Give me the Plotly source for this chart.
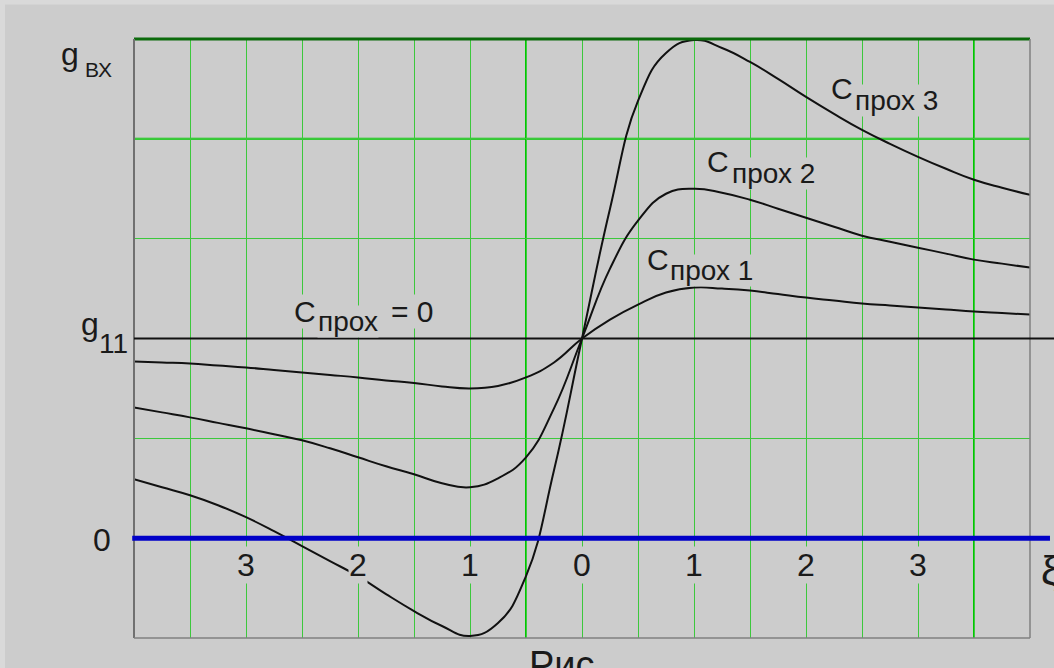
import plotly.graph_objects as go

# Input conductance g_вх versus generalized detuning ξ for several values of
# the feedback (pass-through) capacitance C_прох.  Units on the g axis: 0 at the
# blue zero line, g11 = 2 grid steps, top of the frame = 5 steps.
G11 = 2.0
ZERO = 0.0

xi = [-4, -3.75, -3.5, -3.25, -3, -2.75, -2.5, -2.25, -2, -1.75, -1.5, -1.25,
      -1, -0.75, -0.5, -0.25, 0, 0.25, 0.5, 0.75, 1, 1.25, 1.5, 1.75, 2, 2.25,
      2.5, 2.75, 3, 3.25, 3.5, 3.75, 4]

g_c1 = [1.77, 1.76, 1.75, 1.73, 1.71, 1.685, 1.66, 1.635, 1.61, 1.58, 1.555,
        1.52, 1.50, 1.525, 1.61, 1.76, 2.0, 2.19, 2.34, 2.46, 2.51, 2.50, 2.48,
        2.445, 2.41, 2.38, 2.35, 2.33, 2.31, 2.29, 2.27, 2.255, 2.24]

g_c2 = [1.31, 1.26, 1.21, 1.155, 1.10, 1.04, 0.98, 0.90, 0.81, 0.72, 0.64,
        0.55, 0.51, 0.60, 0.81, 1.30, 2.0, 2.70, 3.18, 3.45, 3.50, 3.46, 3.39,
        3.30, 3.21, 3.12, 3.03, 2.97, 2.91, 2.85, 2.79, 2.75, 2.71]

g_c3 = [0.59, 0.51, 0.43, 0.33, 0.21, 0.07, -0.08, -0.23, -0.38, -0.56, -0.73,
        -0.88, -0.98, -0.85, -0.38, 0.68, 2.0, 3.30, 4.38, 4.86, 4.99, 4.91,
        4.77, 4.60, 4.42, 4.25, 4.09, 3.95, 3.82, 3.70, 3.59, 3.51, 3.44]

# ξ tick positions along the zero line and the labels printed there (|ξ|)
xi_ticks = [-3, -2, -1, 0, 1, 2, 3]
xi_tick_text = ["3", "2", "1", "0", "1", "2", "3"]

BG = "#cccccc"
GRID = "rgb(60,200,60)"
GRID_STRONG = "rgb(0,200,0)"
FONT = "Liberation Sans, Arial, sans-serif"
INK = "#1a1a1a"

fig = go.Figure()

for ys in (g_c1, g_c2, g_c3):
    fig.add_trace(go.Scatter(
        x=xi, y=ys, mode="lines",
        line=dict(color="#111111", width=2, shape="spline", smoothing=1.3),
        hoverinfo="skip", showlegend=False,
    ))

shapes = []
# emphasised grid lines
for xv in (-0.5, 3.5):
    shapes.append(dict(type="line", xref="x", yref="paper", x0=xv, x1=xv,
                       y0=0, y1=1, line=dict(color=GRID_STRONG, width=2),
                       layer="between"))
shapes.append(dict(type="line", xref="paper", yref="y", x0=0, x1=1,
                   y0=4, y1=4, line=dict(color=GRID_STRONG, width=2),
                   layer="between"))
# frame
shapes.append(dict(type="line", xref="paper", yref="paper", x0=0, x1=1,
                   y0=1, y1=1, line=dict(color="#0b6a0b", width=3)))
shapes.append(dict(type="line", xref="paper", yref="paper", x0=0, x1=0,
                   y0=0, y1=1, line=dict(color="#707070", width=2)))
shapes.append(dict(type="line", xref="paper", yref="paper", x0=1, x1=1,
                   y0=0, y1=1, line=dict(color="#808080", width=1.5)))
shapes.append(dict(type="line", xref="paper", yref="paper", x0=0, x1=1,
                   y0=0, y1=0, line=dict(color="#808080", width=1.5)))
# C_прох = 0 : constant level g11
shapes.append(dict(type="line", xref="paper", yref="y", x0=0, x1=1.03,
                   y0=G11, y1=G11, line=dict(color="#111111", width=2)))
# zero line of g
shapes.append(dict(type="line", xref="paper", yref="y", x0=-0.002, x1=1.0223,
                   y0=ZERO, y1=ZERO, line=dict(color="#0000c8", width=5)))
# light strips along the top and left edges of the sheet
shapes.append(dict(type="rect", xref="paper", yref="paper",
                   x0=-0.1496, x1=1.03, y0=1.0575, y1=1.07,
                   line=dict(width=0), fillcolor="#d9d9d9", layer="below"))
shapes.append(dict(type="rect", xref="paper", yref="paper",
                   x0=-0.1496, x1=-0.144, y0=-0.06, y1=1.07,
                   line=dict(width=0), fillcolor="#d9d9d9", layer="below"))

ann = []


def label(text, x, y, size, xref="x", yref="y", xanchor="left", bg=BG):
    ann.append(dict(text=text, x=x, y=y, xref=xref, yref=yref,
                    xanchor=xanchor, yanchor="middle", showarrow=False,
                    font=dict(family=FONT, size=size, color=INK),
                    bgcolor=bg, borderpad=0))


# ξ tick labels under the zero line
for xv, t in zip(xi_ticks, xi_tick_text):
    label(t, xv, -0.27, 32, xanchor="center")

# curve labels: "C" with a lowered, smaller "прох …"
label("C", 2.21, 4.50, 30)
label("прох 3", 2.43, 4.383, 28)
label("C", 1.11, 3.77, 30)
label("прох 2", 1.33, 3.655, 28)
label("C", 0.57, 2.79, 30)
label("прох 1", 0.78, 2.678, 28)
label("C", -2.58, 2.27, 30)
label("прох", -2.37, 2.173, 28)
label("= 0", -1.71, 2.27, 30)

# g axis labels
label("g", -0.0826, 4.85, 32, xref="paper", bg=None)
label("ВХ", -0.0558, 4.69, 21, xref="paper", bg=None)
label("g", -0.0607, 2.15, 32, xref="paper", bg=None)
label("11", -0.0397, 1.95, 28, xref="paper", bg=None)
label("0", -0.036, -0.02, 32, xref="paper", xanchor="center", bg=None)

# ξ symbol at the right end of the zero line and the caption below
label("ξ", 1.0223, -0.33, 40, xref="paper", xanchor="center", bg=None)
ann.append(dict(text="Рис", x=0.4777, y=-0.045, xref="paper", yref="paper",
                xanchor="center", yanchor="middle", showarrow=False,
                font=dict(family=FONT, size=38, color=INK)))

# plot area 896 x 600 px: 56 px per half-unit of ξ, 100 px per g step
fig.update_layout(
    width=1054, height=668,
    margin=dict(l=134, r=24, t=38.5, b=29.5, pad=0),
    paper_bgcolor=BG, plot_bgcolor=BG,
    xaxis=dict(range=[-4, 4], tick0=0, dtick=0.5, showgrid=True,
               gridcolor=GRID, gridwidth=1, zeroline=False,
               showticklabels=False, ticks="", showline=False, fixedrange=True),
    yaxis=dict(range=[-1, 5], tick0=0, dtick=1, showgrid=True,
               gridcolor=GRID, gridwidth=1, zeroline=False,
               showticklabels=False, ticks="", showline=False, fixedrange=True),
    shapes=shapes,
    annotations=ann,
    showlegend=False,
)

fig.write_html("out.html", config={"displayModeBar": False})
